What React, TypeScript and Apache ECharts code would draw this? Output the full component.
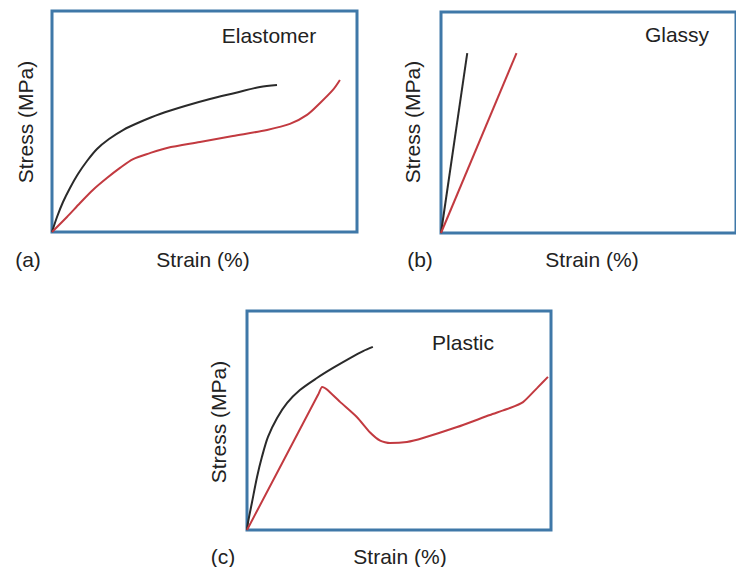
import React, { useEffect, useRef } from "react";
import * as echarts from "echarts";

// Panel (a) Elastomer — [strain, stress] in relative units (0-100)
const elastBlack: [number, number][] = [
  [0, 0], [1.64, 6.79], [3.61, 13.57], [5.9, 19.91], [8.52, 26.24], [11.48, 32.13],
  [14.75, 37.56], [18.69, 42.08], [23.28, 46.15], [28.85, 49.77], [35.41, 53.39],
  [43.61, 57.01], [51.8, 60.18], [60, 62.9], [68.2, 65.61], [73.77, 66.52],
];
const elastRed: [number, number][] = [
  [0, 0], [4.9, 6.8], [9.2, 13.1], [13.4, 19], [18, 24.4], [22.3, 29], [26.6, 33],
  [32.1, 35.7], [37.7, 38], [48.5, 40.7], [59.3, 43.4], [70.5, 46.2], [78, 48.9],
  [83.6, 53], [87.9, 58.4], [92.1, 64.3], [94.4, 68.8],
];
// Panel (b) Glassy
const glassBlack: [number, number][] = [[0, 0], [8.9, 81.4]];
const glassRed: [number, number][] = [[0, 0], [25.6, 81.4]];
// Panel (c) Plastic
const plastBlack: [number, number][] = [
  [0, 0], [0.3, 3.2], [1.6, 12.3], [3.3, 24.2], [4.9, 33.3], [6.9, 42.5], [9.9, 51.1],
  [13.2, 58], [17.4, 63.9], [23, 69.4], [28.3, 74], [33.9, 78.5], [38.2, 81.7], [41.4, 83.6],
];
const plastRed: [number, number][] = [
  [0, 0], [23.5, 62.1], [24.7, 65.3], [26.3, 64.2], [30.6, 58.5], [36.2, 51.5], [40.5, 44.5],
  [43.8, 40.8], [47, 39.7], [52.6, 40.2], [57.9, 42], [69.1, 47], [79.9, 52.5], [86.5, 55.7],
  [90.8, 58.4], [95.4, 64.8], [99, 69.9],
];

const panelTitles = ["Elastomer", "Glassy", "Plastic"];
const panelLetters = ["(a)", "(b)", "(c)"];
const xLabel = "Strain (%)";
const yLabel = "Stress (MPa)";

const BLACK = "#2a2a2a";
const RED = "#c23a40";
const BLUE = "#3f78a8";
const FONT = "'Liberation Sans', Arial, sans-serif";

export default function App() {
  const ref = useRef<HTMLDivElement>(null);
  useEffect(() => {
    if (!ref.current) return;
    const chart = echarts.init(ref.current, undefined, { renderer: "svg" });
    const grids = [
      { left: 52, top: 11, width: 305, height: 221 },
      { left: 441, top: 12, width: 305, height: 221 },
      { left: 247, top: 311, width: 304, height: 219 },
    ];
    const data = [
      [elastBlack, elastRed],
      [glassBlack, glassRed],
      [plastBlack, plastRed],
    ];
    const smooth = [[0.3, 0.3], [false, false], [0.3, 0.2]];
    const series: any[] = [];
    data.forEach((pair, i) => {
      pair.forEach((d, j) => {
        series.push({
          type: "line",
          xAxisIndex: i,
          yAxisIndex: i,
          data: d,
          showSymbol: false,
          smooth: smooth[i][j],
          lineStyle: { color: j === 0 ? BLACK : RED, width: 2 },
          z: 3,
        });
      });
    });
    const txt = (text: string, x: number, y: number, rot = 0) => ({
      type: "text",
      x,
      y,
      rotation: rot,
      style: {
        text,
        fill: "#222",
        font: `21px ${FONT}`,
        align: "center",
        verticalAlign: "middle",
      },
    });
    const graphic: any[] = [
      txt(panelTitles[0], 269, 35),
      txt(panelTitles[1], 677, 34),
      txt(panelTitles[2], 463, 342),
      txt(yLabel, 25, 122, Math.PI / 2),
      txt(yLabel, 412, 122, Math.PI / 2),
      txt(yLabel, 218, 422, Math.PI / 2),
      txt(panelLetters[0], 28, 259),
      txt(panelLetters[1], 420, 259),
      txt(panelLetters[2], 223, 556),
      txt(xLabel, 203, 259),
      txt(xLabel, 592, 259),
      txt(xLabel, 400, 556),
    ];
    chart.setOption({
      animation: false,
      grid: grids.map((g) => ({
        ...g,
        show: true,
        borderColor: BLUE,
        borderWidth: 3,
        backgroundColor: "#fff",
        containLabel: false,
      })),
      xAxis: grids.map((_, i) => ({
        type: "value",
        gridIndex: i,
        min: 0,
        max: 100,
        show: false,
      })),
      yAxis: grids.map((_, i) => ({
        type: "value",
        gridIndex: i,
        min: 0,
        max: 100,
        show: false,
      })),
      series,
      graphic,
    });
    return () => chart.dispose();
  }, []);
  return (
    <div
      ref={ref}
      style={{ position: "fixed", left: 0, top: 0, width: 736, height: 567, background: "#fff" }}
    />
  );
}
